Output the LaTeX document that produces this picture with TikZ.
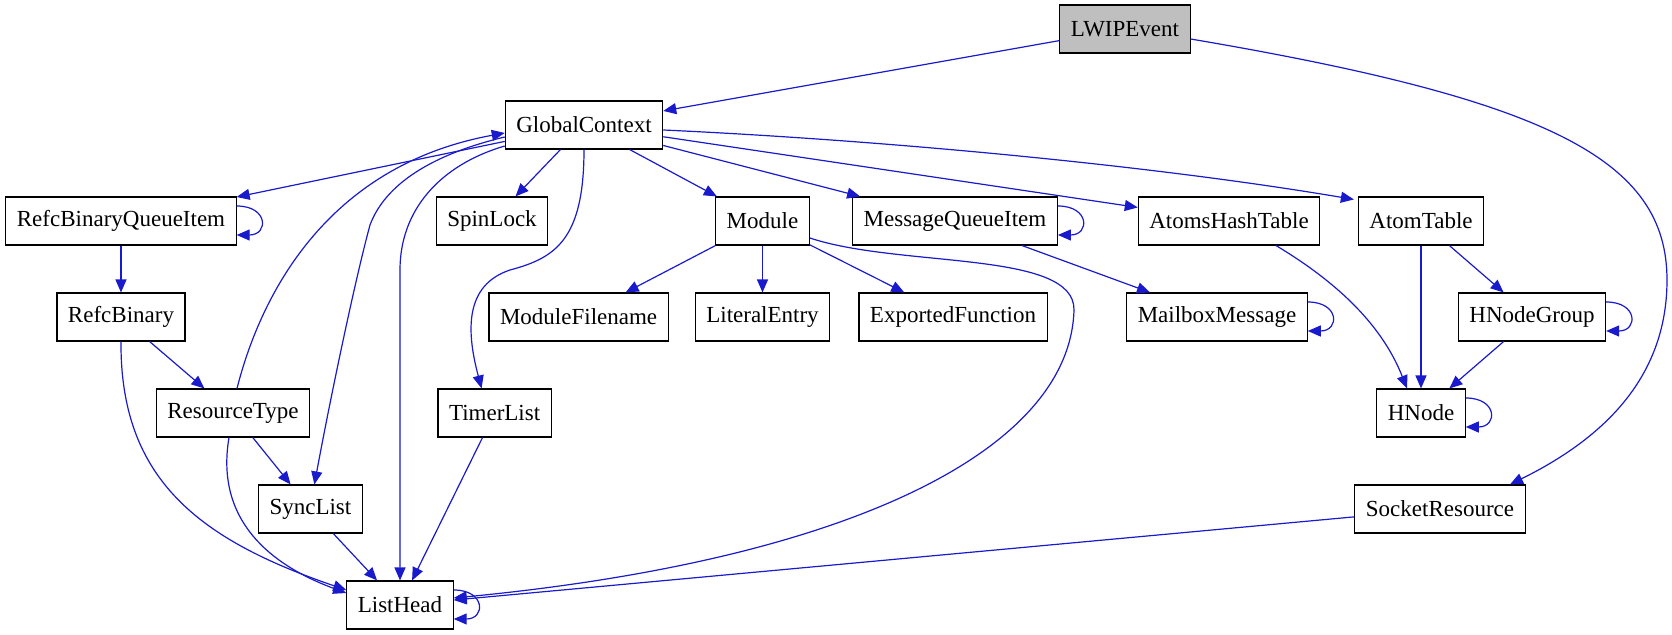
\documentclass[tikz,border=0pt]{standalone}
\usepackage{fontspec}
\setmainfont{Liberation Serif}
\usetikzlibrary{arrows.meta,calc}
\definecolor{edgeblue}{RGB}{26,26,205}
\definecolor{rootgray}{RGB}{191,191,191}
\tikzset{
  cls/.style={draw,line width=0.55pt,fill=white,minimum height=24pt,inner xsep=5.5pt,
              inner ysep=0pt,font=\fontsize{11.5}{13}\selectfont},
  root/.style={cls,fill=rootgray},                 % the documented struct
  ar/.style={-{Triangle[length=6.5pt,width=5.5pt]},draw=edgeblue,line width=0.6pt}
}
\newcommand{\selfloop}[1]{\draw[ar] ($(#1.east)+(0,-15)$) .. controls +(32,0) and +(32,0) .. ($(#1.east)+(0,14)$);}

\begin{document}
\begin{tikzpicture}[x=0.5pt,y=-0.5pt]
  \fill[white] (0,0) rectangle (1672,635);
  \useasboundingbox (0,0) rectangle (1672,635);
  % rows, top to bottom
  \node[root] (lwip) at (1125,29) {LWIPEvent};
  \node[cls] (gc) at (584,125) {GlobalContext};
  \node[cls] (rbqi) at (121,221) {RefcBinaryQueueItem};
  \node[cls] (spin) at (492,221) {SpinLock};
  \node[cls] (mod) at (762.5,221) {Module};
  \node[cls] (mqi) at (955,221) {MessageQueueItem};
  \node[cls] (aht) at (1229,221) {AtomsHashTable};
  \node[cls] (at) at (1421,221) {AtomTable};
  \node[cls] (rb) at (121,317) {RefcBinary};
  \node[cls] (mfn) at (578.6,317) {ModuleFilename};
  \node[cls] (lit) at (762.5,317) {LiteralEntry};
  \node[cls] (expf) at (953,317) {ExportedFunction};
  \node[cls] (mbox) at (1217,317) {MailboxMessage};
  \node[cls] (hng) at (1532,317) {HNodeGroup};
  \node[cls] (rt) at (233,413) {ResourceType};
  \node[cls] (tl) at (494.6,413) {TimerList};
  \node[cls] (hn) at (1421,413) {HNode};
  \node[cls] (sl) at (310.4,509) {SyncList};
  \node[cls] (sock) at (1440,509) {SocketResource};
  \node[cls] (lh) at (400,605) {ListHead};

  % straight edges
  \draw[ar] (lwip) -- (gc);
  \draw[ar] (gc) -- (rbqi);
  \draw[ar] (gc) -- (spin);
  \draw[ar] (gc) -- (mod);
  \draw[ar] (gc) -- (mqi);
  \draw[ar] (gc) -- (aht);
  \draw[ar] (rbqi) -- (rb);
  \draw[ar] (rb) -- (rt);
  \draw[ar] (rt) -- (sl);
  \draw[ar] (mod) -- (mfn);
  \draw[ar] (mod) -- (lit);
  \draw[ar] (mod) -- (expf);
  \draw[ar] (mqi) -- (mbox);
  \draw[ar] (at) -- (hn);
  \draw[ar] (at) -- (hng);
  \draw[ar] (hng) -- (hn);
  \draw[ar] (tl) -- (lh);
  \draw[ar] (sl) -- (lh);
  \draw[ar] (sock) -- (lh);

  % curved edges
  \draw[ar] ($(lwip.east)+(0,10)$) .. controls (1550,100) and (1667,160) .. (1667,280)
            .. controls (1667,380) and (1600,440) .. ($(sock.north)+(70,0)$);
  \draw[ar] ($(gc.east)+(0,5)$) .. controls (880,140) and (1150,165) .. ($(at.north west)+(-4,3)$);
  \draw[ar] ($(rt.north)+(4,0)$) .. controls (262,290) and (330,165) .. ($(gc.west)+(0,8)$);
  \draw[ar] ($(gc.west)+(0,12)$) .. controls (430,155) and (385,185) .. (370,225)
            .. controls (355,280) and (330,400) .. ($(sl.north)+(4,0)$);
  \draw[ar] ($(gc.west)+(0,21)$) .. controls (440,165) and (400,210) .. (lh.north |- 0,270) -- (lh.north);
  \draw[ar] (gc.south) .. controls (584,240) and (555,258) .. (510,270)
            .. controls (465,285) and (466,330) .. ($(tl.north)+(-13,0)$);
  \draw[ar] (rb.south) .. controls (120,480) and (200,540) .. ($(lh.west)+(0,-15)$);
  \draw[ar] ($(rt.south)+(-4,0)$) .. controls (215,520) and (270,565) .. ($(lh.west)+(0,-12)$);
  \draw[ar] ($(mod.east)+(0,17)$) .. controls (900,268) and (1075,250) .. (1074,310)
            .. controls (1070,450) and (850,560) .. ($(lh.east)+(0,-7)$);
  \draw[ar] ($(aht.south)+(47,0)$) .. controls (1330,278) and (1380,320) .. ($(hn.north)+(-14,0)$);

  % self references
  \selfloop{rbqi}
  \selfloop{mqi}
  \selfloop{mbox}
  \selfloop{hng}
  \selfloop{hn}
  \selfloop{lh}
\end{tikzpicture}
\end{document}
